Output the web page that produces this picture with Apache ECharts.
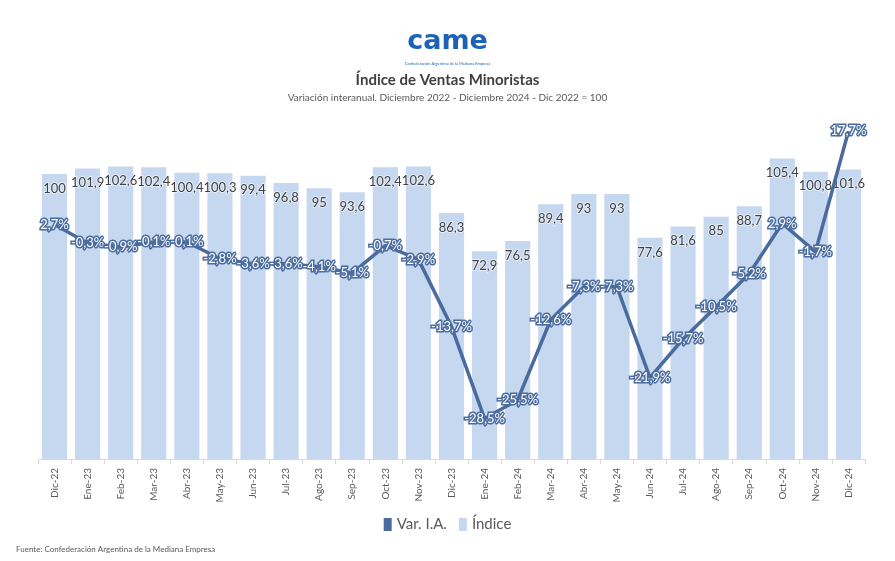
<!DOCTYPE html>
<html><head><meta charset="utf-8">
<script src="https://cdn.jsdelivr.net/npm/echarts@6/dist/echarts.min.js"></script>
<style>html,body{margin:0;padding:0;background:#fff}#c{width:895px;height:561px}</style>
</head><body><div id="c"></div>
<script>
const categories = ['Dic-22','Ene-23','Feb-23','Mar-23','Abr-23','May-23','Jun-23','Jul-23','Ago-23','Sep-23','Oct-23','Nov-23','Dic-23','Ene-24','Feb-24','Mar-24','Abr-24','May-24','Jun-24','Jul-24','Ago-24','Sep-24','Oct-24','Nov-24','Dic-24'];
const indice = [100,101.9,102.6,102.4,100.4,100.3,99.4,96.8,95,93.6,102.4,102.6,86.3,72.9,76.5,89.4,93,93,77.6,81.6,85,88.7,105.4,100.8,101.6];
const varIA = [2.7,-0.3,-0.9,-0.1,-0.1,-2.8,-3.6,-3.6,-4.1,-5.1,-0.7,-2.9,-13.7,-28.5,-25.5,-12.6,-7.3,-7.3,-21.9,-15.7,-10.5,-5.2,2.9,-1.7,17.7];

const FONT = 'Lato, "Open Sans", sans-serif';
const LINE = '#4a6b9e';
const BAR = '#c6d7f0';
const chart = echarts.init(document.getElementById('c'), null, {renderer:'canvas'});
chart.setOption({
  backgroundColor:'#fff',
  textStyle:{fontFamily:FONT},
  animation:false,
  graphic:[
    {type:'text', left:'center', top:28, style:{text:'came', fontSize:27, fontWeight:'bold', fontFamily:'"DejaVu Sans", sans-serif', fill:'#1c63b8'}},
    {type:'text', left:'center', top:62, style:{text:'Confederación Argentina de la Mediana Empresa', fontSize:4, fill:'#1c63b8', fontFamily:FONT}},
    {type:'text', left:'center', top:73, style:{text:'Índice de Ventas Minoristas', fontSize:15, fontWeight:'bold', fill:'#404040', fontFamily:FONT}},
    {type:'text', left:'center', top:93, style:{text:'Variación interanual. Diciembre 2022 - Diciembre 2024 - Dic 2022 = 100', fontSize:10, fill:'#595959', fontFamily:FONT}},
    {type:'text', left:16, top:545, style:{text:'Fuente: Confederación Argentina de la Mediana Empresa', fontSize:8, fill:'#595959', fontFamily:FONT}}
  ],
  legend:{
    data:['Var. I.A.','Índice'], bottom:24, left:'center', icon:'rect', itemWidth:8, itemHeight:13, itemGap:12,
    textStyle:{fontSize:15, color:'#595959', fontFamily:FONT}
  },
  grid:{left:38, right:30, top:117, bottom:102, containLabel:false},
  xAxis:{
    type:'category', data:categories,
    axisLine:{lineStyle:{color:'#d9d9d9'}},
    axisTick:{show:true, length:5, lineStyle:{color:'#d9d9d9'}},
    axisLabel:{rotate:90, fontSize:10, color:'#595959', margin:9, interval:0, fontFamily:FONT}
  },
  yAxis:[
    {type:'value', min:0, max:120, show:false},
    {type:'value', min:-35, max:20, show:false}
  ],
  series:[
    {name:'Índice', type:'bar', data:indice, yAxisIndex:0, barCategoryGap:'24%', z:1,
     itemStyle:{color:BAR},
     label:{show:true, position:'insideTop', distance:8, fontSize:13, color:'#404040', fontFamily:FONT,
       textBorderColor:'rgba(255,255,255,0.55)', textBorderWidth:2,
       formatter:p=>String(p.value).replace('.',',')}},
    {name:'Var. I.A.', type:'line', data:varIA, yAxisIndex:1, z:5,
     symbol:'circle', symbolSize:1, lineStyle:{color:LINE, width:3.5}, itemStyle:{color:LINE},
     label:{show:true, position:'inside', fontSize:13, color:'#fff', fontFamily:FONT,
       textBorderColor:LINE, textBorderWidth:3,
       formatter:p=>p.value.toFixed(1).replace('.',',')+'%'}}
  ]
});
</script></body></html>
